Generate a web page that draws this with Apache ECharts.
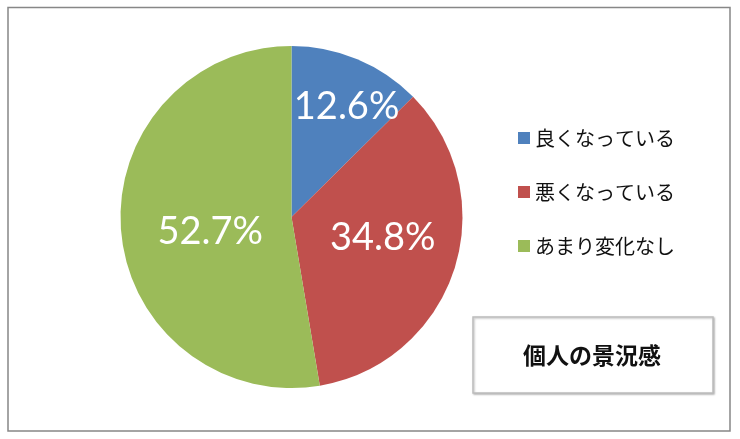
<!DOCTYPE html>
<html>
<head>
<meta charset="utf-8">
<script src="https://cdn.jsdelivr.net/npm/echarts@6/dist/echarts.min.js"></script>
<style>
html,body{margin:0;padding:0;background:#fff;}
#chart{width:740px;height:439px;}
</style>
</head>
<body>
<div id="chart"></div>
<script>
var categories = ['良くなっている', '悪くなっている', 'あまり変化なし'];
var values = [12.6, 34.8, 52.7];
var colors = ['#4F81BD', '#C0504D', '#9BBB59'];
var labelOffsets = [[21, -29], [7, -6], [7, 7]];
var titleText = '個人の景況感';

var chart = echarts.init(document.getElementById('chart'));
var data = categories.map(function (c, i) {
  return {
    name: c,
    value: values[i],
    itemStyle: { color: colors[i] },
    label: { offset: labelOffsets[i] }
  };
});
chart.setOption({
  animation: false,
  title: {
    text: titleText,
    left: 523,
    top: 343,
    padding: 0,
    textStyle: {
      fontFamily: 'Noto Sans CJK JP',
      fontSize: 23,
      fontWeight: 'bold',
      color: '#111',
      lineHeight: 24
    }
  },
  legend: {
    orient: 'vertical',
    left: 518,
    top: 128,
    itemWidth: 12,
    itemHeight: 12,
    itemGap: 34,
    icon: 'rect',
    padding: 0,
    data: categories,
    textStyle: {
      fontFamily: 'Noto Sans CJK JP',
      fontSize: 20,
      lineHeight: 20,
      color: '#111'
    }
  },
  graphic: [
    {
      type: 'rect',
      z: -10,
      shape: { x: 8, y: 7.5, width: 722, height: 423.5 },
      style: { fill: '#fff', stroke: '#878787', lineWidth: 1.5 }
    },
    {
      type: 'rect',
      z: -5,
      shape: { x: 473, y: 317, width: 240, height: 76 },
      style: {
        fill: '#fff', stroke: '#bdbdbd', lineWidth: 1.5,
        shadowBlur: 2, shadowColor: 'rgba(0,0,0,0.25)', shadowOffsetX: 1, shadowOffsetY: 1
      }
    }
  ],
  series: [{
    type: 'pie',
    center: [291.5, 217],
    radius: [0, 171],
    startAngle: 90,
    clockwise: true,
    silent: true,
    avoidLabelOverlap: false,
    itemStyle: { borderWidth: 0 },
    label: {
      show: true,
      position: 'inside',
      formatter: function (p) { return p.value.toFixed(1) + '%'; },
      color: '#fff',
      fontFamily: 'Lato',
      fontSize: 38
    },
    labelLine: { show: false },
    data: data
  }]
});
</script>
</body>
</html>
